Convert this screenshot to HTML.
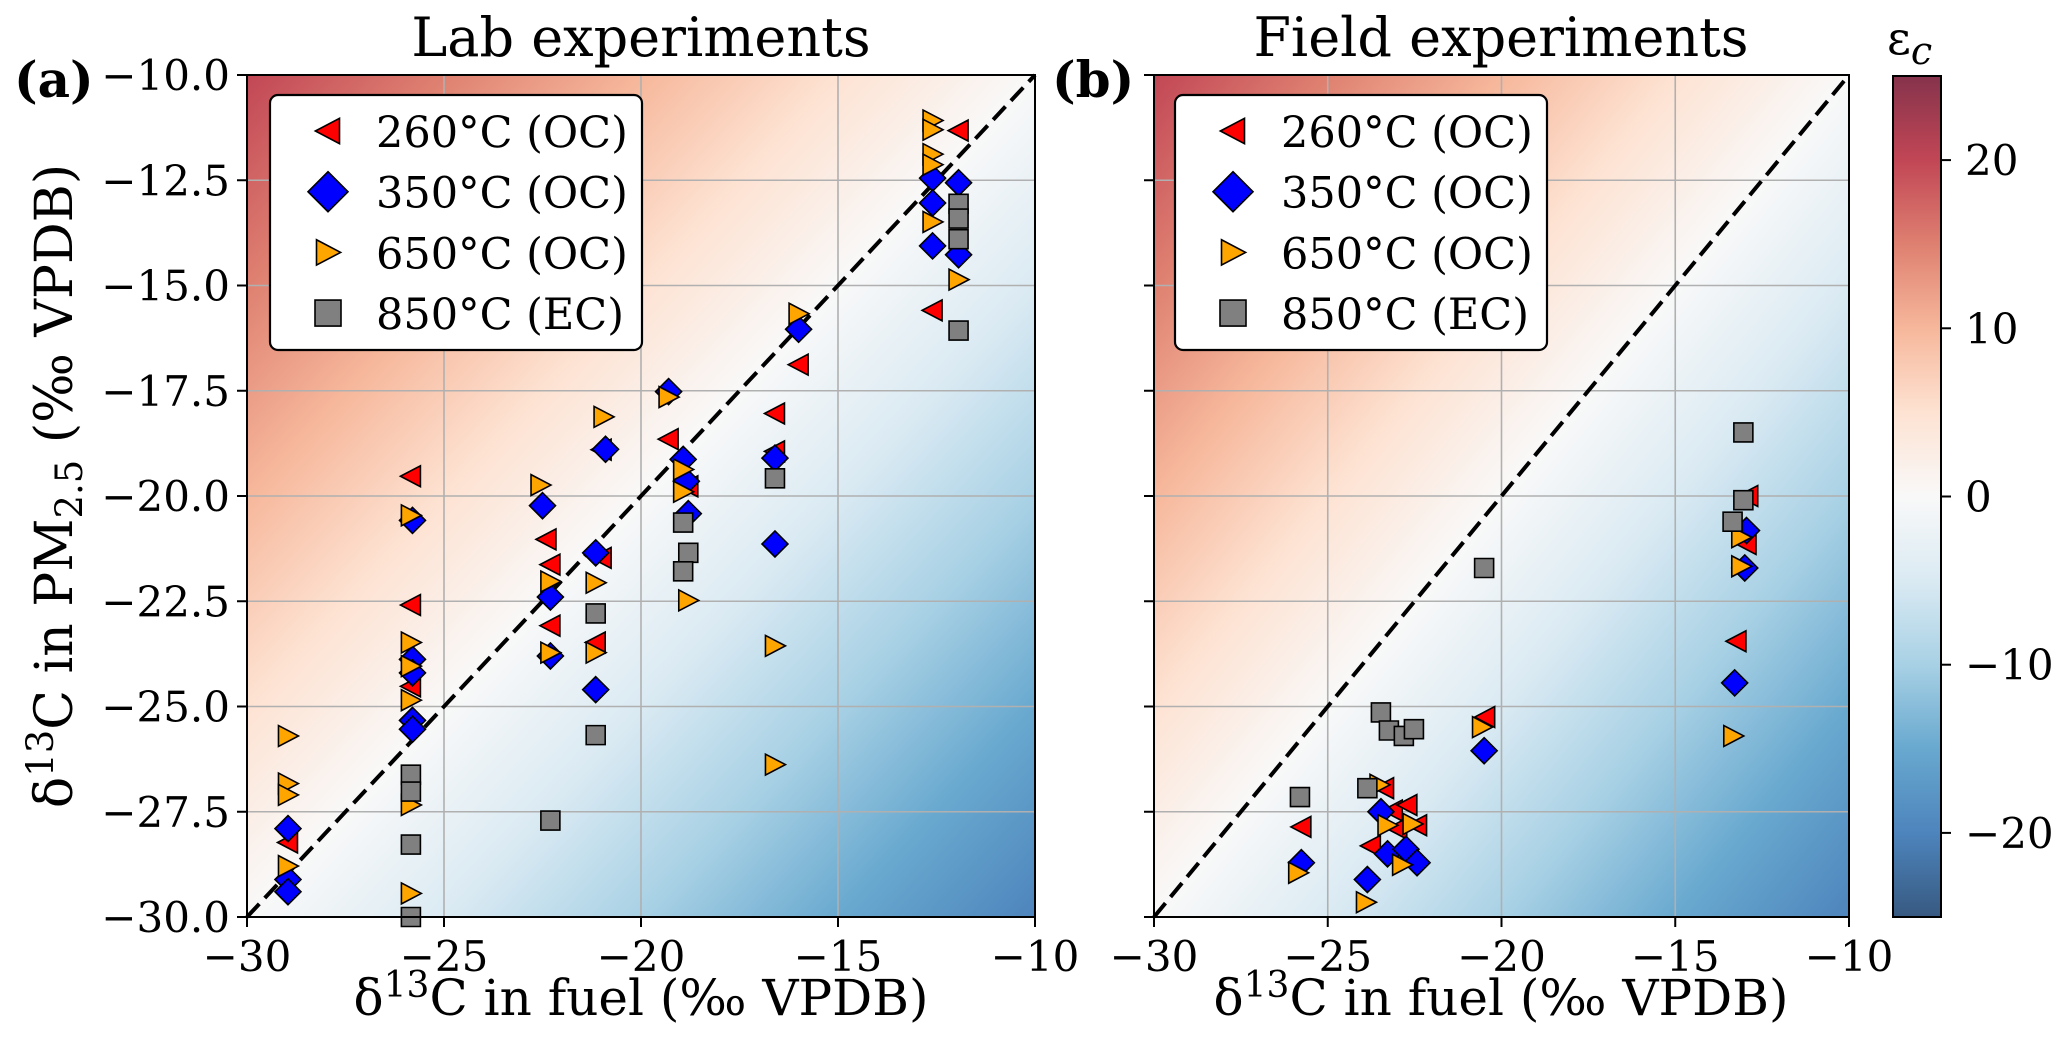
<!DOCTYPE html>
<html><head><meta charset="utf-8"><style>
html,body{margin:0;padding:0;background:#fff}
svg{display:block;font-family:"DejaVu Serif","Liberation Serif",serif}
</style></head><body>
<svg id="fig" width="2067" height="1060" viewBox="0 0 2067 1060" xmlns="http://www.w3.org/2000/svg">
<defs>
<linearGradient id="bg" x1="0" y1="0" x2="1" y2="1">
<stop offset="0" stop-color="#b2182b" stop-opacity="0.8"/>
<stop offset="0.125" stop-color="#d6604d" stop-opacity="0.8"/>
<stop offset="0.25" stop-color="#f4a582" stop-opacity="0.8"/>
<stop offset="0.375" stop-color="#fddbc7" stop-opacity="0.8"/>
<stop offset="0.5" stop-color="#f7f7f7" stop-opacity="0.8"/>
<stop offset="0.625" stop-color="#d1e5f0" stop-opacity="0.8"/>
<stop offset="0.75" stop-color="#92c5de" stop-opacity="0.8"/>
<stop offset="0.875" stop-color="#4393c3" stop-opacity="0.8"/>
<stop offset="1" stop-color="#2166ac" stop-opacity="0.8"/>
</linearGradient>
<linearGradient id="cb" x1="0" y1="0" x2="0" y2="1">
<stop offset="0" stop-color="#67001f" stop-opacity="0.8"/>
<stop offset="0.1" stop-color="#b2182b" stop-opacity="0.8"/>
<stop offset="0.2" stop-color="#d6604d" stop-opacity="0.8"/>
<stop offset="0.3" stop-color="#f4a582" stop-opacity="0.8"/>
<stop offset="0.4" stop-color="#fddbc7" stop-opacity="0.8"/>
<stop offset="0.5" stop-color="#f7f7f7" stop-opacity="0.8"/>
<stop offset="0.6" stop-color="#d1e5f0" stop-opacity="0.8"/>
<stop offset="0.7" stop-color="#92c5de" stop-opacity="0.8"/>
<stop offset="0.8" stop-color="#4393c3" stop-opacity="0.8"/>
<stop offset="0.9" stop-color="#2166ac" stop-opacity="0.8"/>
<stop offset="1" stop-color="#053061" stop-opacity="0.8"/>
</linearGradient>
</defs>
</svg>
<script>
// ---- data ----
const xTicks = [-30, -25, -20, -15, -10];
const yTicks = [-30, -27.5, -25, -22.5, -20, -17.5, -15, -12.5, -10];
const yTickLabels = ["\u221230.0","\u221227.5","\u221225.0","\u221222.5","\u221220.0","\u221217.5","\u221215.0","\u221212.5","\u221210.0"];
const xTickLabels = ["\u221230","\u221225","\u221220","\u221215","\u221210"];
const cbTicks = [20, 10, 0, -10, -20];
const cbTickLabels = ["20","10","0","\u221210","\u221220"];
const seriesNames = ["260\u00b0C (OC)","350\u00b0C (OC)","650\u00b0C (OC)","850\u00b0C (EC)"];

const labX260 = [-11.94,-12.6,-16.0,-16.6,-16.6,-19.3,-18.8,-21.0,-21.0,-21.15,-22.4,-22.3,-22.3,-25.84,-25.84,-25.84,-28.96];
const labY260 = [-11.32,-15.59,-16.88,-18.04,-18.94,-18.65,-19.77,-18.9,-21.47,-23.48,-21.03,-21.63,-23.08,-19.53,-22.59,-24.52,-28.23];
const labX350 = [-11.94,-11.94,-12.6,-12.6,-12.6,-16.0,-16.6,-16.6,-19.3,-18.93,-18.85,-18.8,-20.9,-21.15,-21.15,-22.5,-22.3,-22.3,-25.8,-25.8,-25.8,-25.8,-25.8,-28.96,-28.96,-28.96];
const labY350 = [-12.56,-14.27,-12.45,-13.04,-14.06,-16.04,-19.1,-21.14,-17.52,-19.13,-19.65,-20.42,-18.89,-21.35,-24.6,-20.23,-22.4,-23.8,-20.58,-23.88,-24.2,-25.33,-25.54,-27.9,-29.11,-29.4];
const labX650 = [-12.6,-12.6,-12.6,-12.6,-12.6,-11.94,-16.0,-16.6,-16.6,-19.3,-18.93,-18.93,-18.8,-20.95,-21.15,-21.15,-22.55,-22.3,-22.3,-25.84,-25.84,-25.84,-25.84,-25.84,-25.84,-28.96,-28.96,-28.96,-28.96];
const labY650 = [-11.08,-11.3,-11.88,-12.13,-13.49,-14.86,-15.67,-23.56,-26.38,-17.65,-19.37,-19.9,-22.48,-18.12,-22.06,-23.72,-19.74,-22.03,-23.72,-20.46,-23.48,-24.04,-24.85,-27.34,-29.44,-25.7,-26.83,-27.1,-28.79];
const labX850 = [-11.94,-11.94,-11.94,-11.94,-16.6,-18.93,-18.8,-18.93,-21.15,-21.15,-22.3,-25.84,-25.84,-25.84,-25.84];
const labY850 = [-13.06,-13.41,-13.9,-16.07,-19.58,-20.63,-21.35,-21.79,-22.79,-25.68,-27.71,-26.62,-27.02,-28.28,-30.0];

const fieldX260 = [-25.76,-23.76,-23.38,-23.13,-22.71,-23.0,-22.43,-20.47,-13.24,-12.95,-12.9];
const fieldY260 = [-27.86,-28.31,-26.94,-27.47,-27.34,-27.9,-27.82,-25.25,-23.45,-21.14,-20.0];
const fieldX350 = [-25.76,-23.86,-23.47,-23.28,-22.75,-22.43,-20.5,-13.29,-12.95,-13.0];
const fieldY350 = [-28.71,-29.11,-27.5,-28.5,-28.39,-28.71,-26.05,-24.44,-20.82,-21.71];
const fieldX650 = [-25.85,-23.9,-23.51,-23.28,-22.86,-22.56,-20.56,-13.33,-13.1,-13.1];
const fieldY650 = [-28.95,-29.65,-26.86,-27.82,-28.76,-27.79,-25.49,-25.7,-20.98,-21.67];
const fieldX850 = [-25.8,-23.86,-23.47,-23.24,-22.81,-22.52,-20.5,-13.04,-13.04,-13.35];
const fieldY850 = [-27.15,-26.94,-25.14,-25.57,-25.7,-25.54,-21.71,-18.49,-20.1,-20.61];

// ---- drawing ----
const NS = "http://www.w3.org/2000/svg";
const svg = document.getElementById('fig');
function el(tag, attrs, parent){
  const e = document.createElementNS(NS, tag);
  for (const k in attrs) e.setAttribute(k, attrs[k]);
  (parent||svg).appendChild(e);
  return e;
}
const colors = ["#ff0000","#0000ff","#ffa500","#808080"];
function marker(kind, cx, cy, s, parent){
  let d;
  if (kind===0){ d=`M${cx-s*0.55},${cy} L${cx+s*0.5},${cy-s*0.55} L${cx+s*0.5},${cy+s*0.55} Z`; }
  else if (kind===1){ const r=s*0.5; d=`M${cx},${cy-r} L${cx+r},${cy} L${cx},${cy+r} L${cx-r},${cy} Z`; }
  else if (kind===2){ d=`M${cx+s*0.55},${cy} L${cx-s*0.5},${cy-s*0.55} L${cx-s*0.5},${cy+s*0.55} Z`; }
  else { const h=s*0.5; d=`M${cx-h},${cy-h} h${2*h} v${2*h} h${-2*h} Z`; }
  return el('path',{d:d,fill:colors[kind],stroke:'#000','stroke-width':1.6,'stroke-linejoin':'miter'},parent);
}

function panel(id, L, R, T, B, xs, ys, showYLabels, legX){
  const g = el('g',{});
  
  
  const sx = v => L + (v - (-30)) / 20 * (R - L);
  const sy = v => B - (v - (-30)) / 20 * (B - T);
  const bg = el('rect',{x:L,y:T,width:R-L,height:B-T,fill:'url(#bg)'},g);
  
  
  xTicks.forEach(v=>{ el('line',{x1:sx(v),x2:sx(v),y1:T,y2:B,stroke:'#b0b0b0','stroke-width':1.6},g); });
  yTicks.forEach(v=>{ el('line',{x1:L,x2:R,y1:sy(v),y2:sy(v),stroke:'#b0b0b0','stroke-width':1.6},g); });
  const oneone = el('line',{x1:sx(-30),y1:sy(-30),x2:sx(-10),y2:sy(-10),stroke:'#000','stroke-width':4,'stroke-dasharray':'18,8'},g);
  
  
  const sizes=[19,26,19,19];
  for (let k=0;k<4;k++){
    const sg = el('g',{},g);
    
    
    for (let i=0;i<xs[k].length;i++){
      const m = marker(k, sx(xs[k][i]), sy(ys[k][i]), sizes[k], sg);
      
      
    }
  }
  el('rect',{x:L,y:T,width:R-L,height:B-T,fill:'none',stroke:'#000','stroke-width':2},g);
  xTicks.forEach((v,i)=>{
    el('line',{x1:sx(v),x2:sx(v),y1:B,y2:B+10,stroke:'#000','stroke-width':2},g);
    const t = el('text',{x:sx(v),y:B+54,'font-size':42,'text-anchor':'middle'},g);
    t.textContent = xTickLabels[i];
    
    
  });
  yTicks.forEach((v,i)=>{
    el('line',{x1:L-10,x2:L,y1:sy(v),y2:sy(v),stroke:'#000','stroke-width':2},g);
    if (showYLabels){
      const t = el('text',{x:L-17,y:sy(v)+15,'font-size':42,'text-anchor':'end'},g);
      t.textContent = yTickLabels[i];
      
      
    }
  });
  const lg = el('g',{},g);
  
  
  el('rect',{x:legX,y:95,width:372,height:255,rx:8,fill:'#fff',stroke:'#000','stroke-width':2.2},lg);
  const lsz=[23,40,23,26];
  for (let k=0;k<4;k++){
    const yy = 131 + k*60.7;
    marker(k, legX+58, yy, lsz[k], lg);
    const t = el('text',{x:legX+106,y:yy+16,'font-size':43},lg);
    t.textContent = seriesNames[k];
    
    
  }
  return {sx,sy};
}

panel('panel-lab',247,1035,75,917,[labX260,labX350,labX650,labX850],[labY260,labY350,labY650,labY850],true,270);
panel('panel-field',1154,1849,75,917,[fieldX260,fieldX350,fieldX650,fieldX850],[fieldY260,fieldY350,fieldY650,fieldY850],false,1175);

function txt(name, attrs, html){
  const t = el('text', attrs);
  t.innerHTML = html;
  
  
  return t;
}
txt('title-lab',{x:641,y:56,'font-size':54,'text-anchor':'middle'},'Lab experiments');
txt('title-field',{x:1501,y:56,'font-size':54,'text-anchor':'middle'},'Field experiments');
txt('panel-label-a',{x:14,y:97,'font-size':50,'font-weight':'bold'},'(a)');
txt('panel-label-b',{x:1052,y:97,'font-size':50,'font-weight':'bold'},'(b)');
txt('x-axis-title-lab',{x:641,y:1015,'font-size':50,'text-anchor':'middle'},'δ<tspan dy="-18" font-size="36">13</tspan><tspan dy="18">C in fuel (‰ VPDB)</tspan>');
txt('x-axis-title-field',{x:1501,y:1015,'font-size':50,'text-anchor':'middle'},'δ<tspan dy="-18" font-size="36">13</tspan><tspan dy="18">C in fuel (‰ VPDB)</tspan>');
txt('y-axis-title',{x:0,y:0,'font-size':52,'text-anchor':'middle',transform:'translate(72,486) rotate(-90)'},'δ<tspan dy="-19" font-size="37">13</tspan><tspan dy="19">C in PM</tspan><tspan dy="10" font-size="37">2.5</tspan><tspan dy="-10"> (‰ VPDB)</tspan>');

const cbT=76, cbB=917, cbL=1893, cbR=1941;
const cy = v => cbT + (25 - v) / 50 * (cbB - cbT);
const cbg = el('g',{});


el('rect',{x:cbL,y:cbT,width:cbR-cbL,height:cbB-cbT,fill:'url(#cb)',stroke:'#000','stroke-width':2},cbg);
cbTicks.forEach((v,i)=>{
  el('line',{x1:cbR,x2:cbR+10,y1:cy(v),y2:cy(v),stroke:'#000','stroke-width':2},cbg);
  const t = el('text',{x:cbR+24,y:cy(v)+15,'font-size':42},cbg);
  t.textContent = cbTickLabels[i];
  
  
});
txt('colorbar-title',{x:1887,y:54,'font-size':46},'ε<tspan dy="10" font-style="italic" font-size="38">c</tspan>');
</script>
</body></html>
